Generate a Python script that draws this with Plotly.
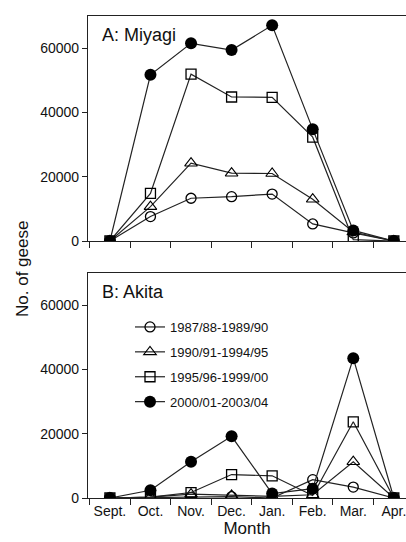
import plotly.graph_objects as go
from plotly.subplots import make_subplots

months = ["Sept.", "Oct.", "Nov.", "Dec.", "Jan.", "Feb.", "Mar.", "Apr."]
periods = ["1987/88-1989/90", "1990/91-1994/95", "1995/96-1999/00", "2000/01-2003/04"]

# A: Miyagi
miyagi_8790 = [0, 7600, 13300, 13800, 14600, 5300, 2500, 0]
miyagi_9095 = [0, 10700, 24200, 21100, 21000, 13000, 2800, 0]
miyagi_9600 = [0, 14800, 51900, 44800, 44700, 32300, 400, 0]
miyagi_0004 = [0, 51700, 61500, 59400, 67100, 34800, 3300, 0]

# B: Akita
akita_8790 = [0, 100, 200, 400, 0, 5700, 3400, 0]
akita_9095 = [0, 300, 1200, 800, 500, 1000, 11300, 0]
akita_9600 = [0, 300, 1700, 7300, 6900, 800, 23700, 0]
akita_0004 = [0, 2400, 11300, 19200, 1400, 2900, 43500, 0]

y_ticks = [0, 20000, 40000, 60000]
y_ticktext = ["0", "20000", "40000", "60000"]

styles = [
    dict(symbol="circle-open", size=10, color="black", line=dict(width=1.3, color="black")),
    dict(symbol="triangle-up-open", size=11, color="black", line=dict(width=1.1, color="black")),
    dict(symbol="square-open", size=10, color="black", line=dict(width=1.3, color="black")),
    dict(symbol="circle", size=12, color="black", line=dict(width=0, color="black")),
]

fig = make_subplots(rows=2, cols=1, vertical_spacing=0.066)

miyagi = [miyagi_8790, miyagi_9095, miyagi_9600, miyagi_0004]
akita = [akita_8790, akita_9095, akita_9600, akita_0004]

for i, (vals, st) in enumerate(zip(miyagi, styles)):
    fig.add_trace(go.Scatter(x=months, y=vals, mode="lines+markers",
                             line=dict(color="#222", width=1.2), marker=st,
                             showlegend=False), row=1, col=1)
for i, (vals, st) in enumerate(zip(akita, styles)):
    fig.add_trace(go.Scatter(x=months, y=vals, mode="lines+markers", name=periods[i],
                             legendgroup=str(i),
                             line=dict(color="#222", width=1.2), marker=st,
                             showlegend=True), row=2, col=1)

font_main = "Liberation Sans, Arial, sans-serif"
ax_common = dict(showline=True, linecolor="#222", linewidth=1.2, showgrid=False,
                 zeroline=False, ticks="outside", tickcolor="#222", tickwidth=1.1)

for r in (1, 2):
    fig.update_xaxes(type="category", categoryorder="array", categoryarray=months,
                     range=[-0.54, 7.3], tickson="boundaries", ticklen=6, mirror=True,
                     tickangle=0,
                     showticklabels=(r == 2), tickfont=dict(size=14, color="#111", family=font_main),
                     row=r, col=1, **ax_common)
    fig.update_yaxes(range=[0, 70000], tickvals=y_ticks, ticktext=y_ticktext, ticklen=5,
                     tickfont=dict(size=14, color="#111", family=font_main),
                     row=r, col=1, **ax_common)

fig.update_yaxes(domain=[0.5332, 1.0], row=1, col=1)
fig.update_yaxes(domain=[0.0, 0.4668], row=2, col=1)
fig.update_xaxes(title=dict(text="Month", font=dict(size=17, color="#111", family=font_main), standoff=0), row=2, col=1)

fig.add_annotation(text="A: Miyagi", xref="paper", yref="paper", x=(100 - 88) / 318, y=(498 - 35) / 482,
                   xanchor="left", yanchor="middle", showarrow=False,
                   font=dict(size=18, color="#111", family=font_main))
fig.add_annotation(text="B: Akita", xref="paper", yref="paper", x=(100 - 88) / 318, y=(498 - 292) / 482,
                   xanchor="left", yanchor="middle", showarrow=False,
                   font=dict(size=18, color="#111", family=font_main))
fig.add_annotation(text="No. of geese", xref="paper", yref="paper", x=(22 - 88) / 318, y=(498 - 269) / 482,
                   xanchor="center", yanchor="middle", textangle=-90, showarrow=False,
                   font=dict(size=17, color="#111", family=font_main))

fig.update_layout(
    width=406, height=542,
    margin=dict(l=88, r=0, t=16, b=44),
    paper_bgcolor="white", plot_bgcolor="white",
    legend=dict(x=(130 - 88) / 318, y=(498 - 312) / 482, xanchor="left", yanchor="top",
                bgcolor="rgba(0,0,0,0)", font=dict(size=13, color="#111", family=font_main),
                itemwidth=30, tracegroupgap=5),
)

fig.write_html("out.html")
